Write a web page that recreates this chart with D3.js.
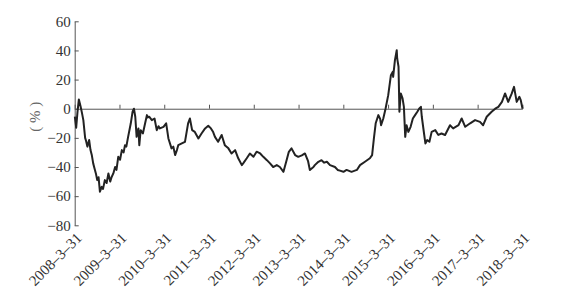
<!DOCTYPE html>
<html><head><meta charset="utf-8">
<script src="https://cdn.jsdelivr.net/npm/d3@7"></script>
<style>
html,body{margin:0;padding:0;background:#fff;}
svg{display:block;}
svg text{font-family:"Liberation Serif","Times New Roman",serif !important;font-size:15px;}
</style></head>
<body>
<svg id="c" width="562" height="292"></svg>
<script>
// decimal-year dates
const dates = [2008.25,2008.28,2008.31,2008.34,2008.38,2008.41,2008.44,2008.48,2008.50,2008.53,2008.57,2008.60,2008.63,2008.66,2008.69,2008.72,2008.75,2008.78,2008.81,2008.85,2008.88,2008.92,2008.96,2009.00,2009.04,2009.07,2009.11,2009.15,2009.18,2009.22,2009.26,2009.30,2009.34,2009.37,2009.40,2009.44,2009.50,2009.54,2009.57,2009.60,2009.63,2009.67,2009.69,2009.72,2009.77,2009.82,2009.86,2009.88,2009.91,2009.97,2010.03,2010.08,2010.12,2010.15,2010.23,2010.29,2010.34,2010.41,2010.45,2010.49,2010.53,2010.56,2010.64,2010.71,2010.78,2010.82,2010.87,2010.93,2011.01,2011.08,2011.16,2011.23,2011.29,2011.34,2011.38,2011.45,2011.53,2011.60,2011.68,2011.75,2011.83,2011.90,2011.98,2012.01,2012.09,2012.16,2012.24,2012.31,2012.39,2012.46,2012.54,2012.61,2012.68,2012.76,2012.83,2012.91,2012.98,2013.03,2013.09,2013.17,2013.24,2013.32,2013.39,2013.46,2013.50,2013.58,2013.61,2013.69,2013.76,2013.82,2013.88,2013.95,2014.06,2014.12,2014.17,2014.25,2014.32,2014.43,2014.55,2014.62,2014.73,2014.84,2014.89,2014.93,2014.97,2015.03,2015.07,2015.09,2015.14,2015.19,2015.25,2015.31,2015.35,2015.36,2015.40,2015.44,2015.45,2015.48,2015.50,2015.53,2015.57,2015.60,2015.63,2015.66,2015.70,2015.75,2015.80,2015.85,2015.90,2015.94,2015.98,2016.00,2016.05,2016.08,2016.12,2016.17,2016.22,2016.30,2016.37,2016.44,2016.52,2016.63,2016.70,2016.82,2016.89,2016.97,2017.08,2017.19,2017.30,2017.37,2017.45,2017.56,2017.64,2017.71,2017.79,2017.86,2017.93,2018.01,2018.06,2018.12,2018.18,2018.21,2018.25];
const values = [-5.5,-13,-2,6.4,1.3,-3,-7.8,-20,-22,-26,-21.5,-28.4,-32,-37.5,-41,-44.4,-49,-47,-56.9,-53.6,-55,-49,-51,-44.4,-50,-47,-44.4,-40,-42,-33,-35,-28.4,-30,-25,-26,-19.3,-10,-2,0,-5.5,-19.3,-13.5,-25,-14.7,-17,-10,-4.4,-6,-5.5,-7.8,-6.7,-14.7,-12,-13.5,-12.4,-10,-20.4,-27.2,-26,-31.8,-28.4,-25,-23.8,-22.7,-10,-6.7,-14.7,-15.9,-20.4,-17,-13.5,-11.7,-13.5,-16,-19.3,-22.7,-18,-25,-27.2,-30.7,-28.4,-34,-38.7,-37.5,-34,-30.7,-33,-29.5,-30.7,-33,-35.3,-37.5,-40,-38.7,-40,-43.3,-35.3,-29.6,-27.2,-31.8,-33,-32,-30.7,-36,-42,-40,-38.7,-36.4,-35.3,-37,-36.4,-38.7,-40,-42,-42.5,-43.3,-42,-43.3,-42,-38.7,-36.4,-34,-31.8,-20.4,-10,-4.4,-7,-11.3,-6.7,0,9.3,23,25.3,21.9,33.4,40.2,34.5,28.8,-2,10.5,7.1,1.3,-19.3,-11.3,-15.9,-12.4,-6.7,-4.4,-2.1,0,1.3,-5.5,-17,-23.8,-21.5,-22.7,-15.9,-14.7,-18,-17,-18,-11.3,-13.5,-11.3,-6.7,-12.4,-10,-7.8,-9,-11.3,-5.5,-2.1,0,1.3,4.7,10.5,4.7,10.5,15,4.7,8.2,5.9,0];
const yTicks = [-80,-60,-40,-20,0,20,40,60];
const xTicks = [2008.247,2009.247,2010.247,2011.247,2012.247,2013.247,2014.247,2015.247,2016.247,2017.247,2018.247];
const xLabels = ["2008–3–31","2009–3–31","2010–3–31","2011–3–31","2012–3–31","2013–3–31","2014–3–31","2015–3–31","2016–3–31","2017–3–31","2018–3–31"];
const yTitle = "( % )";

const svg = d3.select("#c");
const x = d3.scaleLinear().domain([2008.247, 2018.247]).range([74.7, 522.4]);
const y = d3.scaleLinear().domain([-80, 60]).range([225.3, 21.3]);
const axisColor = "#555";

// y axis
const ya = svg.append("g").attr("transform", "translate(74.7,0)")
  .call(d3.axisLeft(y).tickValues(yTicks).tickSizeInner(-4).tickSizeOuter(0).tickPadding(4)
    .tickFormat(d => d < 0 ? "−" + Math.abs(d) : String(d)));
ya.select(".domain").attr("stroke", axisColor);
ya.selectAll(".tick line").attr("stroke", axisColor);
ya.selectAll("text").attr("fill", "#333");

// zero axis with upward ticks
const xa = svg.append("g").attr("transform", `translate(0,${y(0)})`)
  .call(d3.axisBottom(x).tickValues(xTicks).tickSizeInner(-4).tickSizeOuter(0).tickFormat(""));
xa.select(".domain").attr("stroke", axisColor);
xa.selectAll(".tick line").attr("stroke", axisColor);

// rotated date labels
svg.append("g").selectAll("text").data(xTicks).join("text")
  .attr("transform", (d) => `translate(${x(d) + 8},239) rotate(-45)`)
  .attr("text-anchor", "end")
  .attr("fill", "#333")
  .text((d, i) => xLabels[i]);

// y title
svg.append("text").attr("transform", "translate(40,116.7) rotate(-90)")
  .attr("text-anchor", "middle").attr("fill", "#666")
  .text(yTitle);

// series line
const data = dates.map((d, i) => ({d, v: values[i]}));
svg.append("path").datum(data)
  .attr("fill", "none").attr("stroke", "#222").attr("stroke-width", 2)
  .attr("stroke-linejoin", "round")
  .attr("d", d3.line().x(p => x(p.d)).y(p => y(p.v)));
</script>
</body></html>
